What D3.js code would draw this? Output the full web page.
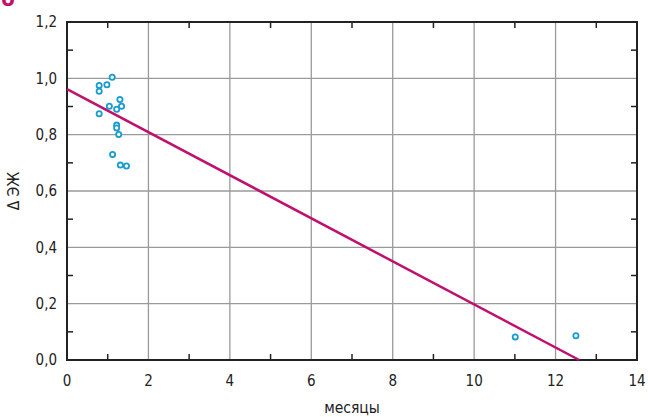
<!DOCTYPE html>
<html>
<head>
<meta charset="utf-8">
<script src="https://cdn.jsdelivr.net/npm/d3@7"></script>
<style>
  body { margin: 0; background: #fff; }
  svg { display: block; font-family: "DejaVu Sans Condensed", "DejaVu Sans", sans-serif; }
</style>
</head>
<body>
<svg width="648" height="417"></svg>
<script>
// точки (месяцы, ΔЭЖ)
const months = [1.11, 0.79, 0.98, 0.79, 1.30, 1.04, 1.34, 1.22, 0.79, 1.22, 1.22, 1.27, 1.12, 1.31, 1.46, 11.01, 12.50];
const deltaEJ = [1.004, 0.975, 0.977, 0.954, 0.925, 0.901, 0.901, 0.890, 0.874, 0.834, 0.824, 0.801, 0.730, 0.692, 0.689, 0.082, 0.086];
// линия тренда
const trendX = [0, 12.58];
const trendY = [0.962, 0];
const xTicks = [0, 2, 4, 6, 8, 10, 12, 14];
const yTicks = [0, 0.2, 0.4, 0.6, 0.8, 1.0, 1.2];

const margin = { left: 67, right: 11, top: 22, bottom: 57 };
const svg = d3.select('svg');
const width = 648 - margin.left - margin.right;
const height = 417 - margin.top - margin.bottom;

const x = d3.scaleLinear().domain([0, 14]).range([0, width]);
const y = d3.scaleLinear().domain([0, 1.2]).range([height, 0]);
const fmt = d => d3.format('.1f')(d).replace('.', ',');

const g = svg.append('g').attr('transform', `translate(${margin.left},${margin.top})`);

// сетка
g.selectAll('.vgrid').data(xTicks.slice(1, -1)).enter().append('line')
    .attr('x1', d => x(d)).attr('x2', d => x(d)).attr('y1', 0).attr('y2', height)
    .attr('stroke', '#9a9a9a').attr('stroke-width', 1.3);
g.selectAll('.hgrid').data(yTicks.slice(1, -1)).enter().append('line')
    .attr('y1', d => y(d)).attr('y2', d => y(d)).attr('x1', 0).attr('x2', width)
    .attr('stroke', '#9a9a9a').attr('stroke-width', 1.3);

// мелкие засечки
const xMinor = d3.range(1, 14, 2);
const yMinor = [0.1, 0.3, 0.5, 0.7, 0.9, 1.1];
const tk = 6;
g.selectAll('.xmb').data(xMinor).enter().append('line')
    .attr('x1', d => x(d)).attr('x2', d => x(d)).attr('y1', height).attr('y2', height - tk)
    .attr('stroke', '#222').attr('stroke-width', 1.5);
g.selectAll('.xmt').data(xMinor).enter().append('line')
    .attr('x1', d => x(d)).attr('x2', d => x(d)).attr('y1', 0).attr('y2', tk)
    .attr('stroke', '#222').attr('stroke-width', 1.5);
g.selectAll('.yml').data(yMinor).enter().append('line')
    .attr('y1', d => y(d)).attr('y2', d => y(d)).attr('x1', 0).attr('x2', tk)
    .attr('stroke', '#222').attr('stroke-width', 1.5);
g.selectAll('.ymr').data(yMinor).enter().append('line')
    .attr('y1', d => y(d)).attr('y2', d => y(d)).attr('x1', width).attr('x2', width - tk)
    .attr('stroke', '#222').attr('stroke-width', 1.5);

// рамка
g.append('rect').attr('width', width).attr('height', height)
    .attr('fill', 'none').attr('stroke', '#222').attr('stroke-width', 2);

// подписи осей
g.selectAll('.xl').data(xTicks).enter().append('text')
    .attr('x', d => x(d)).attr('y', height + 26)
    .attr('text-anchor', 'middle').attr('font-size', 15).attr('fill', '#222')
    .text(d => d);
g.selectAll('.yl').data(yTicks).enter().append('text')
    .attr('x', -10).attr('y', d => y(d)).attr('dy', '0.35em')
    .attr('text-anchor', 'end').attr('font-size', 15).attr('fill', '#222')
    .text(fmt);

svg.append('text').attr('x', margin.left + width / 2).attr('y', 413)
    .attr('text-anchor', 'middle').attr('font-size', 15.5).attr('fill', '#222')
    .text('месяцы');
svg.append('text')
    .attr('transform', `translate(19,${margin.top + height / 2}) rotate(-90)`)
    .attr('text-anchor', 'middle').attr('font-size', 15.5).attr('fill', '#222')
    .text('Δ ЭЖ');

// метка панели
svg.append('text').attr('x', 1).attr('y', 6).attr('font-size', 22).attr('font-weight', 'bold')
    .attr('fill', '#c0106e').text('б');

// линия тренда
g.append('line')
    .attr('x1', x(trendX[0])).attr('y1', y(trendY[0]))
    .attr('x2', x(trendX[1])).attr('y2', y(trendY[1]))
    .attr('stroke', '#c0106e').attr('stroke-width', 2.5);

// точки
g.selectAll('circle').data(months.map((m, i) => [m, deltaEJ[i]])).enter().append('circle')
    .attr('cx', d => x(d[0])).attr('cy', d => y(d[1])).attr('r', 2.6)
    .attr('fill', '#fff').attr('stroke', '#1a9cd0').attr('stroke-width', 1.8);
</script>
</body>
</html>
